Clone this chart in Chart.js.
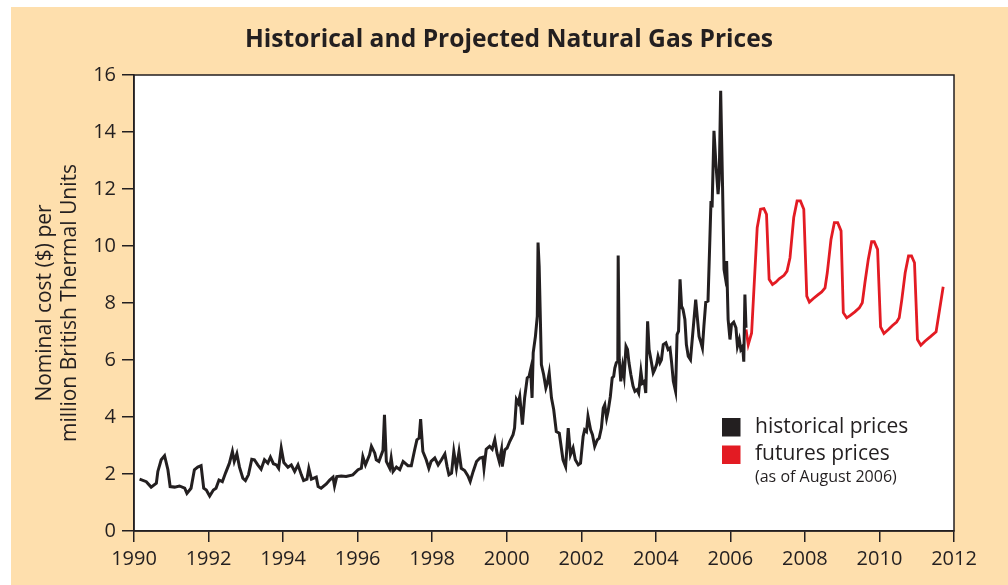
<!DOCTYPE html>
<html>
<head>
<meta charset="utf-8">
<script src="https://cdn.jsdelivr.net/npm/chart.js@4.4.0/dist/chart.umd.min.js"></script>
<style>
    html, body { margin: 0; padding: 0; background: #ffffff; }
    #wrap { width: 1008px; height: 585px; }
</style>
</head>
<body>
<div id="wrap"><canvas id="jsChart" width="1008" height="585"></canvas></div>
<script>

// historical prices
const histYears = [
    1990.15, 1990.33, 1990.46, 1990.6, 1990.64, 1990.73, 1990.82, 1990.91, 1990.97, 1991.09,
    1991.22, 1991.36, 1991.42, 1991.53, 1991.62, 1991.71, 1991.8, 1991.87, 1991.94, 1992.03,
    1992.13, 1992.2, 1992.28, 1992.37, 1992.46, 1992.56, 1992.64, 1992.69, 1992.76, 1992.83,
    1992.92, 1992.99, 1993.07, 1993.16, 1993.23, 1993.32, 1993.41, 1993.5, 1993.59, 1993.66,
    1993.74, 1993.82, 1993.88, 1993.95, 1994.02, 1994.13, 1994.22, 1994.31, 1994.4, 1994.49,
    1994.55, 1994.64, 1994.69, 1994.76, 1994.89, 1994.94, 1995.02, 1995.16, 1995.25, 1995.34,
    1995.38, 1995.44, 1995.56, 1995.69, 1995.87, 1996.01, 1996.1, 1996.14, 1996.21, 1996.32,
    1996.37, 1996.46, 1996.5, 1996.57, 1996.68, 1996.72, 1996.77, 1996.86, 1996.9, 1996.95,
    1997.04, 1997.13, 1997.22, 1997.35, 1997.44, 1997.53, 1997.59, 1997.65, 1997.69, 1997.75,
    1997.84, 1997.91, 1997.97, 1998.07, 1998.16, 1998.25, 1998.34, 1998.4, 1998.45, 1998.52,
    1998.58, 1998.65, 1998.72, 1998.78, 1998.87, 1998.96, 1999.02, 1999.1, 1999.19, 1999.28,
    1999.36, 1999.39, 1999.45, 1999.54, 1999.61, 1999.68, 1999.74, 1999.8, 1999.86, 1999.88,
    1999.95, 2000.01, 2000.08, 2000.17, 2000.21, 2000.26, 2000.31, 2000.35, 2000.42, 2000.48,
    2000.55, 2000.6, 2000.64, 2000.68, 2000.71, 2000.77, 2000.82, 2000.84, 2000.87, 2000.93,
    2000.99, 2001.05, 2001.09, 2001.14, 2001.2, 2001.26, 2001.33, 2001.41, 2001.51, 2001.58,
    2001.65, 2001.71, 2001.78, 2001.84, 2001.92, 2001.98, 2002.05, 2002.09, 2002.14, 2002.18,
    2002.25, 2002.3, 2002.36, 2002.43, 2002.48, 2002.54, 2002.59, 2002.63, 2002.68, 2002.72,
    2002.78, 2002.83, 2002.87, 2002.9, 2002.94, 2002.98, 2002.99, 2003.02, 2003.06, 2003.11,
    2003.15, 2003.2, 2003.24, 2003.28, 2003.33, 2003.39, 2003.44, 2003.5, 2003.54, 2003.6,
    2003.64, 2003.69, 2003.73, 2003.78, 2003.82, 2003.87, 2003.93, 2003.97, 2004.02, 2004.06,
    2004.11, 2004.15, 2004.2, 2004.27, 2004.33, 2004.38, 2004.42, 2004.47, 2004.53, 2004.57,
    2004.61, 2004.65, 2004.69, 2004.73, 2004.78, 2004.82, 2004.87, 2004.93, 2005.0, 2005.07,
    2005.11, 2005.16, 2005.2, 2005.25, 2005.29, 2005.34, 2005.4, 2005.45, 2005.48, 2005.51,
    2005.56, 2005.61, 2005.67, 2005.7, 2005.74, 2005.79, 2005.83, 2005.86, 2005.9, 2005.94,
    2005.99, 2006.03, 2006.09, 2006.15, 2006.19, 2006.24, 2006.28, 2006.33, 2006.36, 2006.39,
    2006.42
]
const histPrices = [
    1.82, 1.73, 1.54, 1.68, 2.09, 2.5, 2.64, 2.15, 1.56, 1.54,
    1.58, 1.5, 1.32, 1.5, 2.15, 2.24, 2.29, 1.5, 1.44, 1.23,
    1.44, 1.5, 1.79, 1.73, 2.05, 2.38, 2.79, 2.44, 2.71, 2.24,
    1.85, 1.77, 1.97, 2.52, 2.5, 2.32, 2.17, 2.5, 2.38, 2.59,
    2.36, 2.32, 2.2, 2.91, 2.4, 2.24, 2.32, 2.09, 2.32, 1.97,
    1.77, 1.82, 2.2, 1.82, 1.89, 1.56, 1.5, 1.65, 1.79, 1.89,
    1.58, 1.91, 1.93, 1.91, 1.97, 2.15, 2.2, 2.61, 2.32, 2.67,
    2.97, 2.73, 2.5, 2.44, 2.83, 4.08, 2.44, 2.2, 2.56, 2.09,
    2.24, 2.15, 2.44, 2.29, 2.29, 2.85, 3.2, 3.26, 3.93, 2.79,
    2.5, 2.2, 2.44, 2.56, 2.32, 2.5, 2.7, 2.26, 1.97, 2.03,
    2.79, 2.2, 2.79, 2.2, 2.12, 1.93, 1.74, 2.09, 2.44, 2.56,
    2.59, 2.2, 2.87, 2.97, 2.87, 3.2, 2.73, 2.44, 2.85, 2.26,
    2.85, 2.91, 3.14, 3.38, 3.61, 4.61, 4.49, 4.72, 3.73, 4.67,
    5.37, 5.43, 5.66, 4.67, 6.25, 6.83, 7.54, 10.12, 9.3, 5.84,
    5.49, 5.02, 5.19, 5.55, 4.67, 4.26, 3.49, 3.43, 2.5, 2.26,
    3.61, 2.67, 2.91, 2.5, 2.32, 2.38, 3.32, 3.55, 3.49, 4.02,
    3.55, 3.38, 2.97, 3.2, 3.26, 3.61, 4.31, 4.43, 3.96, 4.2,
    4.72, 5.37, 5.43, 5.72, 5.9, 5.96, 9.67, 6.01, 5.25, 5.78,
    5.43, 6.48, 6.37, 5.9, 5.49, 5.08, 4.9, 4.96, 4.84, 5.6,
    5.19, 5.25, 4.84, 7.36, 6.37, 6.01, 5.55, 5.66, 5.84, 6.13,
    5.9, 6.01, 6.54, 6.6, 6.37, 6.42, 5.96, 5.25, 4.9, 6.89,
    7.01, 8.83, 7.89, 7.77, 7.42, 6.54, 6.13, 6.01, 7.07, 8.12,
    7.54, 6.83, 6.66, 6.42, 7.19, 8.03, 8.07, 10.23, 11.58, 11.35,
    14.04, 12.93, 11.82, 12.34, 15.45, 12.11, 9.18, 8.94, 9.47, 7.42,
    6.72, 7.25, 7.33, 7.13, 6.48, 6.72, 6.37, 6.48, 5.94, 8.3,
    7.13
]

// futures prices, as of August 2006
const futYears = [
    2006.42, 2006.48, 2006.57, 2006.72, 2006.81, 2006.9, 2006.97, 2007.04, 2007.13, 2007.22,
    2007.31, 2007.44, 2007.52, 2007.6, 2007.7, 2007.79, 2007.88, 2007.97, 2008.05, 2008.12,
    2008.22, 2008.33, 2008.45, 2008.54, 2008.6, 2008.7, 2008.79, 2008.88, 2008.97, 2009.03,
    2009.12, 2009.21, 2009.34, 2009.46, 2009.54, 2009.61, 2009.7, 2009.79, 2009.86, 2009.95,
    2010.03, 2010.12, 2010.24, 2010.35, 2010.46, 2010.53, 2010.6, 2010.69, 2010.78, 2010.86,
    2010.94, 2011.02, 2011.11, 2011.22, 2011.36, 2011.52, 2011.71
]
const futPrices = [
    7.07, 6.54, 6.95, 10.64, 11.29, 11.31, 11.11, 8.83, 8.65, 8.73,
    8.85, 8.97, 9.12, 9.59, 11.0, 11.58, 11.58, 11.29, 8.24, 8.03,
    8.15, 8.27, 8.39, 8.53, 9.06, 10.23, 10.82, 10.82, 10.53, 7.66,
    7.48, 7.56, 7.69, 7.83, 8.01, 8.71, 9.53, 10.15, 10.15, 9.88,
    7.16, 6.93, 7.07, 7.21, 7.33, 7.48, 8.12, 9.06, 9.65, 9.65,
    9.41, 6.72, 6.52, 6.66, 6.81, 6.99, 8.57
]

// axis ticks
const xTicks = [1990, 1992, 1994, 1996, 1998, 2000, 2002, 2004, 2006, 2008, 2010, 2012]
const yTicks = [0, 2, 4, 6, 8, 10, 12, 14, 16]

const titleText = 'Historical and Projected Natural Gas Prices'
const yTitle = ['Nominal cost ($) per', 'million British Thermal Units']
const legendItems = [
    { label: 'historical prices', color: '#231F20' },
    { label: 'futures prices', color: '#E31B23' }
]
const legendNote = '(as of August 2006)'

const ink = '#231F20'
const cream = '#FEDFAD'

/**
 * @function toPoints
 * @description 把年份與數值組成 {x, y}
*/
function toPoints(xs, ys) {
    return xs.map((x, i) => ({ x: x, y: ys[i] }))
}

// 背景、標題、圖例、外框
const decorPlugin = {
    id: 'decor',
    beforeDraw(chart) {
        let ctx = chart.ctx
        let area = chart.chartArea
        ctx.save()
        ctx.fillStyle = '#ffffff'
        ctx.fillRect(0, 0, chart.width, chart.height)
        ctx.fillStyle = cream
        ctx.fillRect(11, 7, chart.width - 11, chart.height - 7)
        ctx.fillStyle = '#ffffff'
        ctx.fillRect(area.left, area.top, area.right - area.left, area.bottom - area.top)

        // title, squeezed to the condensed width of the original
        ctx.font = 'bold 25px "Open Sans", sans-serif'
        ctx.fillStyle = ink
        ctx.textAlign = 'center'
        ctx.textBaseline = 'middle'
        let w = ctx.measureText(titleText).width
        ctx.translate(509, 40)
        ctx.scale(528 / w, 1)
        ctx.fillText(titleText, 0, 0)
        ctx.restore()
    },
    afterDraw(chart) {
        let ctx = chart.ctx
        let area = chart.chartArea
        ctx.save()
        ctx.strokeStyle = ink
        ctx.lineWidth = 1.5
        ctx.strokeRect(area.left, area.top, area.right - area.left, area.bottom - area.top)

        // legend
        ctx.textAlign = 'left'
        ctx.textBaseline = 'middle'
        legendItems.forEach((item, i) => {
            let y = 418 + i * 27.5
            ctx.fillStyle = item.color
            ctx.fillRect(722, y, 18.5, 18.5)
            ctx.fillStyle = ink
            ctx.font = '21px "Open Sans", sans-serif'
            ctx.fillText(item.label, 755, y + 9)
        })
        ctx.font = '16px "Open Sans", sans-serif'
        ctx.fillText(legendNote, 755, 477)
        ctx.restore()
    }
}

/**
 * @function initChart
 * @description 初始化圖表
*/
function initChart() {

    let element = document.getElementById('jsChart')

    new Chart(element, {
        type: 'line',
        data: {
            datasets: [{
                label: legendItems[0].label,
                data: toPoints(histYears, histPrices),
                borderColor: legendItems[0].color,
                borderWidth: 3,
                pointRadius: 0,
                tension: 0
            }, {
                label: legendItems[1].label,
                data: toPoints(futYears, futPrices),
                borderColor: legendItems[1].color,
                borderWidth: 2.8,
                pointRadius: 0,
                tension: 0
            }]
        },
        options: {
            responsive: false,
            animation: false,
            layout: {
                padding: { top: 75, right: 54, left: 0, bottom: 0 }
            },
            plugins: {
                legend: { display: false },
                tooltip: { enabled: false }
            },
            scales: {
                x: {
                    type: 'linear',
                    min: xTicks[0],
                    max: xTicks[xTicks.length - 1],
                    afterBuildTicks: (scale) => { scale.ticks = xTicks.map(v => ({ value: v })) },
                    afterFit: (scale) => { scale.height = 54 },
                    border: { display: true, color: ink, width: 1.5 },
                    grid: {
                        drawOnChartArea: false,
                        drawTicks: true,
                        tickLength: 11,
                        color: ink,
                        lineWidth: 1.5
                    },
                    ticks: {
                        color: ink,
                        padding: 5,
                        maxRotation: 0,
                        font: { family: '"Open Sans", sans-serif', size: 20 },
                        callback: (v) => String(v)
                    }
                },
                y: {
                    min: yTicks[0],
                    max: yTicks[yTicks.length - 1],
                    afterBuildTicks: (scale) => { scale.ticks = yTicks.map(v => ({ value: v })) },
                    afterFit: (scale) => { scale.width = 134 },
                    border: { display: true, color: ink, width: 1.5 },
                    grid: {
                        drawOnChartArea: false,
                        drawTicks: true,
                        tickLength: 12,
                        color: ink,
                        lineWidth: 1.5
                    },
                    ticks: {
                        color: ink,
                        padding: 6,
                        font: { family: '"Open Sans", sans-serif', size: 20 }
                    },
                    title: {
                        display: true,
                        text: yTitle,
                        color: ink,
                        padding: { top: 32, bottom: 0 },
                        font: { family: '"Open Sans", sans-serif', size: 21, lineHeight: 1.2 }
                    }
                }
            }
        },
        plugins: [decorPlugin]
    })

    return true
}

initChart()
</script>
</body>
</html>
